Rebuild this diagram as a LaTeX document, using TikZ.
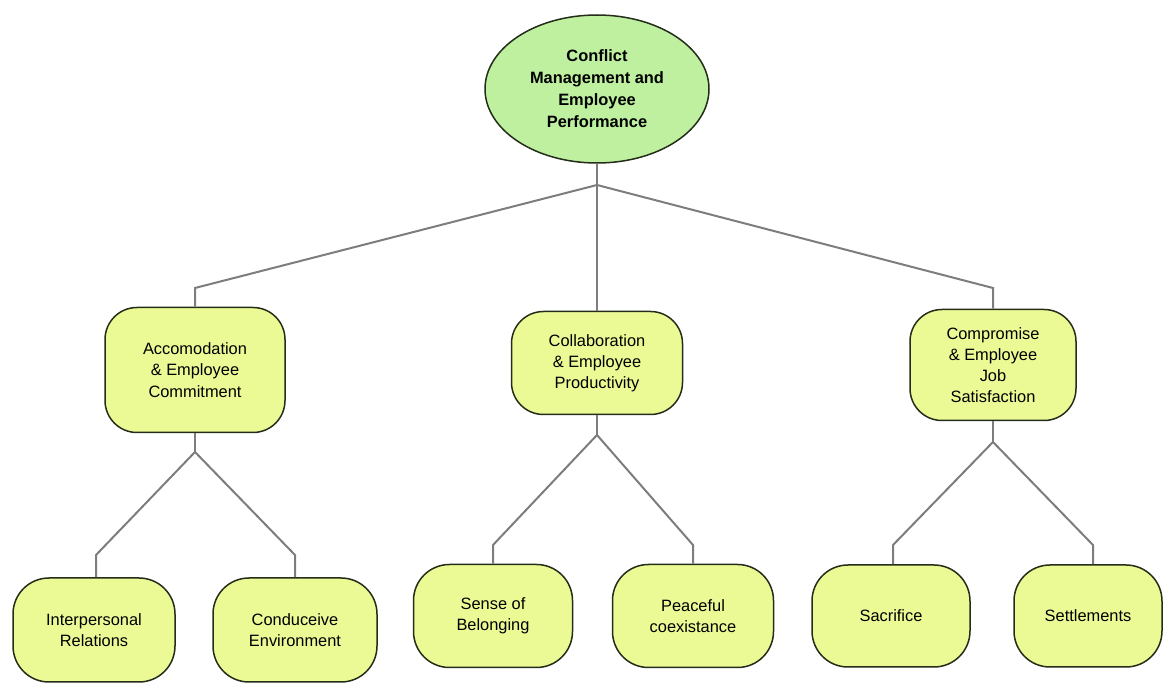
\documentclass[tikz,border=0pt]{standalone}
\usepackage{fontspec}
\setmainfont{Liberation Sans}
\usetikzlibrary{shapes.geometric}
\definecolor{boxfill}{RGB}{236,250,150}
\definecolor{rootfill}{RGB}{190,240,160}
\definecolor{edgegray}{RGB}{125,125,125}
\definecolor{rim}{RGB}{35,45,25}
\begin{document}
\begin{tikzpicture}[x=0.5pt,y=-0.5pt,
    every node/.style={font=\fontsize{8.2}{10.6}\selectfont},
    box/.style={draw=rim,line width=.75pt,fill=boxfill,rounded corners=16pt,
        align=center,inner sep=0pt},
    link/.style={draw=edgegray,line width=1pt}]
    \useasboundingbox (0,0) rectangle (1164,684);
    % top
    \node[ellipse,draw=rim,line width=.75pt,fill=rootfill,minimum width=112pt,
        minimum height=74pt,inner sep=0pt,align=center,
        font=\bfseries\fontsize{8.2}{11}\selectfont] (root) at (597,89)
        {Conflict\\Management and\\Employee\\Performance};
    % second row
    \node[box,minimum width=90pt,minimum height=62.5pt] (acc) at (195,370)
        {Accomodation\\\& Employee\\Commitment};
    \node[box,minimum width=85.5pt,minimum height=51.5pt] (col) at (597,363)
        {Collaboration\\\& Employee\\Productivity};
    \node[box,minimum width=83pt,minimum height=55.5pt] (com) at (993,365)
        {Compromise\\\& Employee\\Job\\Satisfaction};
    % third row
    \node[box,minimum width=81pt,minimum height=52pt,rounded corners=18pt] (inter) at (94,630)
        {Interpersonal\\Relations};
    \node[box,minimum width=82pt,minimum height=52pt,rounded corners=18pt] (cond) at (295,630)
        {Conduceive\\Environment};
    \node[box,minimum width=79.5pt,minimum height=51.5pt,rounded corners=18pt] (sense) at (493,616)
        {Sense of\\Belonging};
    \node[box,minimum width=80.5pt,minimum height=51.5pt,rounded corners=18pt] (peace) at (693,616)
        {Peaceful\\coexistance};
    \node[box,minimum width=79pt,minimum height=51pt,rounded corners=18pt] (sacr) at (891,616)
        {Sacrifice};
    \node[box,minimum width=74pt,minimum height=51pt,rounded corners=18pt] (settl) at (1088,616)
        {Settlements};
    % branch points
    \coordinate (j0) at (597,185);
    \coordinate (b1) at (195,288);
    \coordinate (b2) at (993,288);
    \coordinate (ja) at (195,452);
    \coordinate (jc) at (597,435);
    \coordinate (jm) at (993,442);
    \coordinate (c1) at (96,555);
    \coordinate (c2) at (295,555);
    \coordinate (c3) at (493,545);
    \coordinate (c4) at (693,545);
    \coordinate (c5) at (893,545);
    \coordinate (c6) at (1093,545);
    % connectors
    \draw[link] (root) -- (j0);
    \draw[link] (j0) -- (b1) -- (acc.north);
    \draw[link] (j0) -- (col.north);
    \draw[link] (j0) -- (b2) -- (com.north);
    \draw[link] (acc.south) -- (ja);
    \draw[link] (ja) -- (c1) -- (c1 |- inter.north);
    \draw[link] (ja) -- (c2) -- (c2 |- cond.north);
    \draw[link] (col.south) -- (jc);
    \draw[link] (jc) -- (c3) -- (c3 |- sense.north);
    \draw[link] (jc) -- (c4) -- (c4 |- peace.north);
    \draw[link] (com.south) -- (jm);
    \draw[link] (jm) -- (c5) -- (c5 |- sacr.north);
    \draw[link] (jm) -- (c6) -- (c6 |- settl.north);
\end{tikzpicture}
\end{document}
